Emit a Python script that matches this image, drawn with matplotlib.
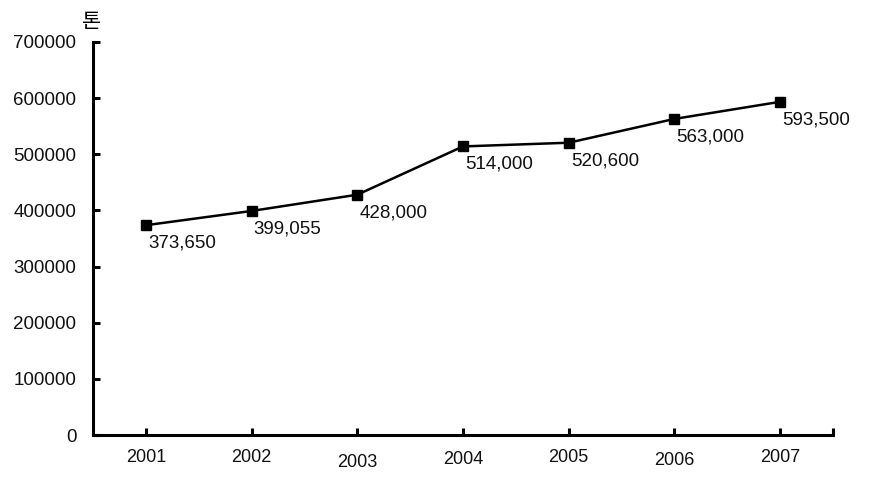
import matplotlib
matplotlib.use("Agg")
import matplotlib.pyplot as plt
import matplotlib.transforms as mtransforms

plt.rcParams['font.family'] = ['Liberation Sans', 'Noto Sans CJK KR', 'DejaVu Sans']

years = ["2001", "2002", "2003", "2004", "2005", "2006", "2007"]
values = [373650, 399055, 428000, 514000, 520600, 563000, 593500]
yticks = [0, 100000, 200000, 300000, 400000, 500000, 600000, 700000]

fig = plt.figure(figsize=(8.86, 4.83), dpi=100)
ax = fig.add_axes([93/886, 1 - 435/483, (833-93)/886, (435-42)/483])

x = list(range(1, len(years) + 1))
ax.plot(x, values, color='black', lw=1.8, marker='s', markersize=7.5, markerfacecolor='black')

for xi, v in zip(x, values):
    ax.annotate(f"{v:,}", (xi, v), xytext=(2, -18), textcoords='offset pixels',
                ha='left', va='center', fontsize=13.5, color='#111111')

ax.set_xlim(0.5, len(years) + 0.5)
ax.set_ylim(0, 700000)
ax.set_yticks(yticks)
ax.set_yticklabels([str(t) for t in yticks], fontsize=13.5)
ax.set_xticks(x + [len(years) + 0.5])
ax.set_xticklabels(years + [""], fontsize=13)

for s in ['top', 'right']:
    ax.spines[s].set_visible(False)
for s in ['left', 'bottom']:
    ax.spines[s].set_linewidth(2.2)

ax.tick_params(axis='both', direction='in', length=5, width=2.2, color='black', labelcolor='#111111')
ax.tick_params(axis='x', pad=10)
ax.tick_params(axis='y', pad=12)

# slight vertical offsets seen in the reference labels
labels = ax.get_xticklabels()
offs = {2: -5, 3: -2, 5: -3}
for i, dy in offs.items():
    labels[i].set_transform(labels[i].get_transform() + mtransforms.ScaledTranslation(0, dy/100, fig.dpi_scale_trans))

fig.text(92/886, 1 - 22/483, "톤", fontsize=15, ha='center', va='center', family=['Noto Sans CJK KR'])

fig.savefig("out.png", dpi=100)
